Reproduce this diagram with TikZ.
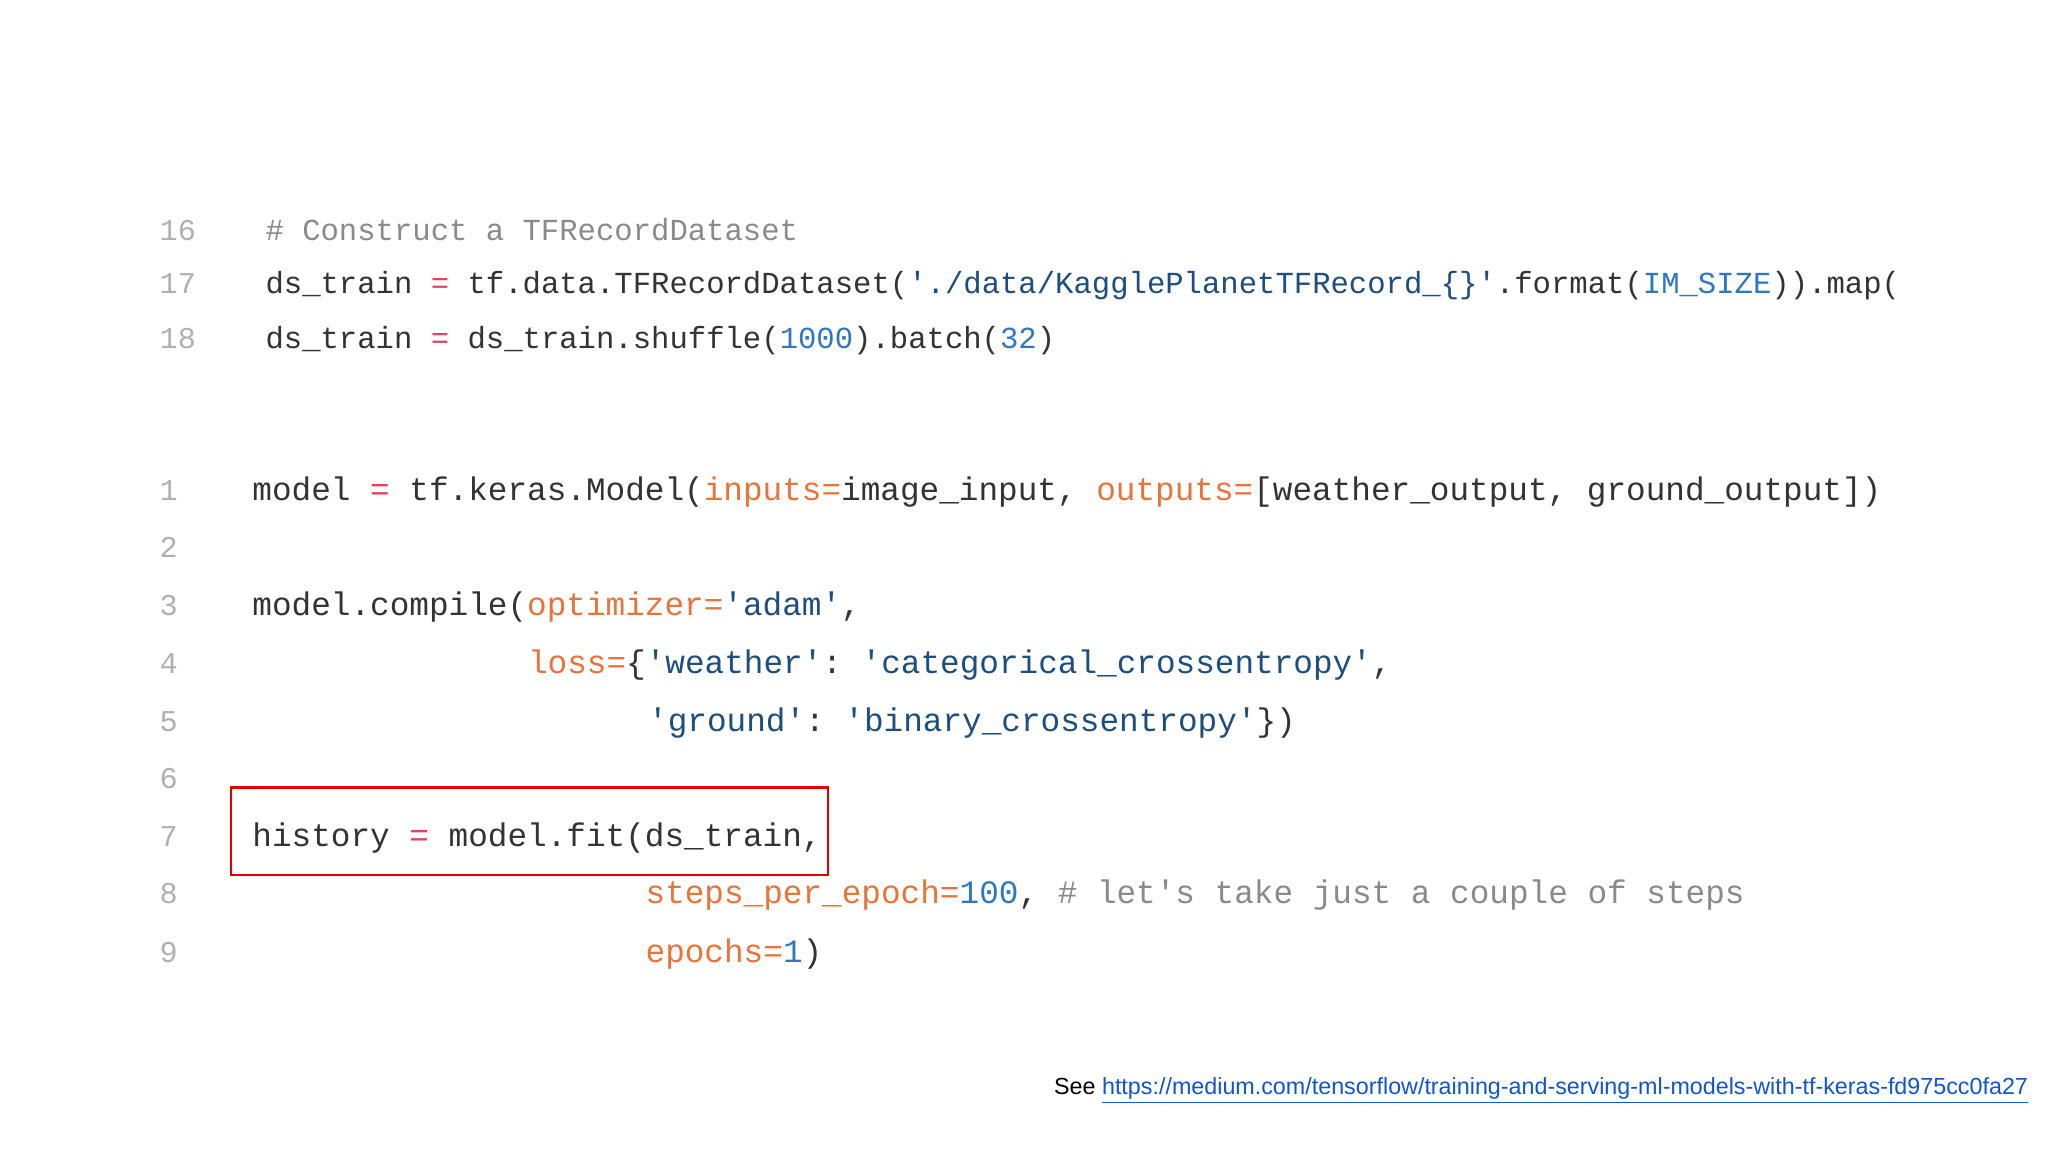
\documentclass[tikz,border=0pt]{standalone}
\usepackage{fontspec}
\setmainfont{Liberation Sans}
\setmonofont{Liberation Mono}
\definecolor{txt}{HTML}{333333}
\definecolor{cmt}{HTML}{8A8A8A}
\definecolor{opr}{HTML}{E5405E}
\definecolor{kw}{HTML}{E8743B}
\definecolor{num}{HTML}{2F78C0}
\definecolor{str}{HTML}{1D4E7E}
\definecolor{lno}{HTML}{B0B0B0}
\definecolor{lnk}{HTML}{1155CC}
\newcommand{\cO}[1]{\textcolor{opr}{#1}}
\newcommand{\cK}[1]{\textcolor{kw}{#1}}
\newcommand{\cN}[1]{\textcolor{num}{#1}}
\newcommand{\cS}[1]{\textcolor{str}{#1}}
\newcommand{\cC}[1]{\textcolor{cmt}{#1}}
\tikzset{
 codeA/.style={anchor=base west,inner sep=0pt,font=\ttfamily\fontsize{15.3}{18}\selectfont,text=txt},
 codeB/.style={anchor=base west,inner sep=0pt,font=\ttfamily\fontsize{16.35}{19}\selectfont,text=txt},
 lnum/.style={anchor=base west,inner sep=0pt,font=\ttfamily\fontsize{15.1}{18}\selectfont,text=lno},
}
\begin{document}
\begin{tikzpicture}[x=0.653pt,y=-0.653pt]
\useasboundingbox (0,0) rectangle (1568,882);
\fill[white] (0,0) rectangle (1568,882);
% top block
\node[lnum] (n16) at (122,184) {16};
\node[lnum] (n17) at (122,225) {17};
\node[lnum] (n18) at (122,267) {18};
\node[codeA] (l16) at (203,184) {\cC{\# Construct a TFRecordDataset}};
\node[codeA] (l17) at (203,225) {ds\_train \cO{=} tf.data.TFRecordDataset(\cS{'./data/KagglePlanetTFRecord\_\{\}'}.format(\cN{IM\_SIZE})).map(};
\node[codeA] (l18) at (203,267) {ds\_train \cO{=} ds\_train.shuffle(\cN{1000}).batch(\cN{32})};
% bottom block
\foreach \n/\y in {1/383,2/427,3/471,4/516,5/560,6/604,7/648,8/692,9/737}
  \node[lnum] (m\n) at (122,\y) {\n};
\node[codeB] (b1) at (193,383) {model \cO{=} tf.keras.Model(\cK{inputs=}image\_input, \cK{outputs=}[weather\_output, ground\_output])};
\node[codeB] (b3) at (193,471) {model.compile(\cK{optimizer=}\cS{'adam'},};
\node[codeB] (b4) at (404,516) {\cK{loss=}\{\cS{'weather'}: \cS{'categorical\_crossentropy'},};
\node[codeB] (b5) at (496,560) {\cS{'ground'}: \cS{'binary\_crossentropy'}\})};
\node[codeB] (b7) at (193,648) {history \cO{=} model.fit(ds\_train,};
\node[codeB] (b8) at (494,692) {\cK{steps\_per\_epoch=}\cN{100}, \cC{\# let's take just a couple of steps}};
\node[codeB] (b9) at (494,737) {\cK{epochs=}\cN{1})};
\draw[red!90!black,line width=1.3pt] (177,603) rectangle (634,670);
\node[anchor=base east,inner sep=0pt,font=\fontsize{11.65}{13}\selectfont] (see) at (1553,838)
 {See \textcolor{lnk}{\underline{https://medium.com/tensorflow/training-and-serving-ml-models-with-tf-keras-fd975cc0fa27}}};
\end{tikzpicture}
\end{document}
